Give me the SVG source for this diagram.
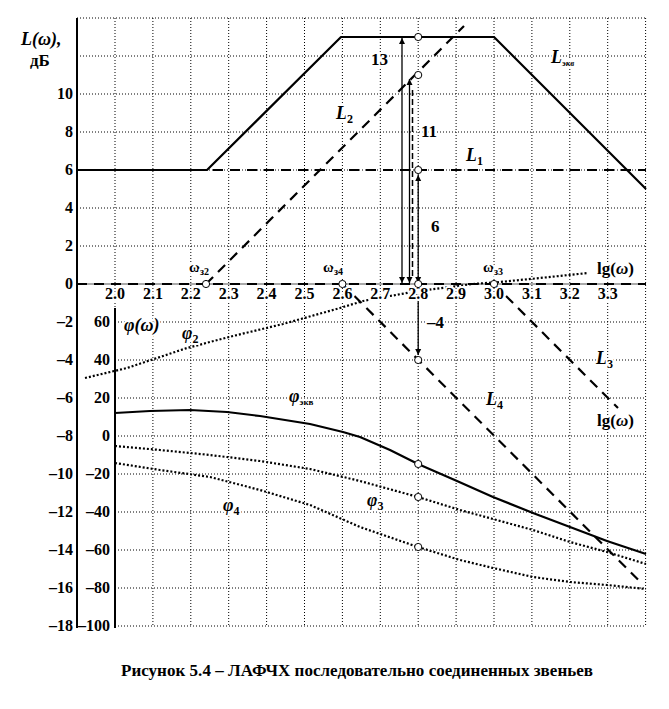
<svg xmlns="http://www.w3.org/2000/svg" width="669" height="709" viewBox="0 0 669 709">
<defs>
<style>
.grid{fill:none;stroke:#000;stroke-width:1;stroke-dasharray:1 2}
.axis{fill:none;stroke:#000;stroke-width:2}
.solid{fill:none;stroke:#000;stroke-width:2.2;stroke-linejoin:round}
.dash{fill:none;stroke:#000;stroke-width:2.2;stroke-dasharray:10 7}
.dot{fill:none;stroke:#000;stroke-width:2.2;stroke-dasharray:2 2;stroke-linejoin:round}
.arr{fill:none;stroke:#000;stroke-width:1.3}
.pt{fill:#fff;stroke:#000;stroke-width:1}
text{font-family:"Liberation Serif","Times New Roman",serif;font-weight:bold;fill:#000}
.tk{font-size:16px}
.tl{text-anchor:end}
.tc{text-anchor:middle}
.halo{stroke:#fff;stroke-width:4;paint-order:stroke;stroke-linejoin:round}
.lab{font-size:18px;font-style:italic}
.num{font-size:17px}
</style>
<marker id="ah" viewBox="0 0 10 10" refX="10" refY="5" markerWidth="6" markerHeight="11" markerUnits="userSpaceOnUse" orient="auto-start-reverse">
<path d="M0,0 L10,5 L0,10 z" fill="#000"/>
</marker>
</defs>

<g id="grid">
<path class="grid" d="M152.9,18V626M190.8,18V626M228.7,18V626M266.6,18V626M304.5,18V626M342.4,18V626M380.3,18V626M418.2,18V626M456.1,18V626M494,18V626M531.9,18V626M569.8,18V626M607.7,18V626M645.6,18V626M115,18V310"/>
<path class="grid" d="M77,18H646M77,56H646M77,94H646M77,132H646M77,170H646M77,208H646M77,246H646M115,322H646M115,360H646M115,398H646M115,436H646M115,474H646M115,512H646M115,550H646M115,588H646M115,626H646"/>
</g>

<g id="axes">
<path class="axis" d="M77,18V628"/>
<path class="axis" d="M115,308V628" stroke-width="1.5"/>
<path fill="none" stroke="#555" stroke-width="1.2" d="M77,284H646"/>
</g>

<g id="connectors">
<path id="L0" class="dash" d="M77,284H646"/>
<path id="L1" class="dash" d="M77,170H646"/>
<path id="Lekv" class="solid" d="M77,170L207,170L341,37L494,37L646,189"/>
<path id="L2" class="dash" d="M206,284L464,26"/>
<path id="L3" class="dash" d="M494,284L618,408"/>
<path id="L4" class="dash" d="M342.4,284L640,581.6"/>
<path id="phi2" class="dot" d="M85,378L127,368L187,348L233,336L283,324L340,308L363,301L390,296L418,291L450,287L473,284L500,282L540,278L588,273"/>
<path id="phiekv" class="solid" d="M115,413L150,411L190,410L227,412L260,416L310,424L343,432L360,437L390,450L418,464L457,481L493,497L533,513L570,527L607,541L646,554"/>
<path id="phi3" class="dot" d="M115,446L160,450L210,455L260,461L310,469L360,481L418,497L460,510L493,519L533,530L570,542L607,552L646,564"/>
<path id="phi4" class="dot" d="M115,463L160,470L210,477L260,490L310,505L360,527L418,547L460,560L493,568L533,577L570,582L607,585L646,589"/>
<path class="arr" d="M402,283V38" marker-start="url(#ah)" marker-end="url(#ah)"/>
<path class="arr" d="M409.5,283V79" marker-start="url(#ah)" marker-end="url(#ah)" stroke-width="1.6"/>
<path fill="none" stroke="#000" stroke-width="1.5" stroke-dasharray="6 3" d="M412.5,276V90"/>
<path class="arr" d="M418.2,283V175" marker-start="url(#ah)" marker-end="url(#ah)"/>
<path class="arr" d="M418.2,287V355" marker-end="url(#ah)"/>
</g>

<g id="points">
<circle class="pt" cx="206" cy="284" r="3.6"/>
<circle class="pt" cx="342.4" cy="284" r="3.6"/>
<circle class="pt" cx="494" cy="284" r="3.6"/>
<circle class="pt" cx="418.2" cy="284" r="3.6"/>
<circle class="pt" cx="418.2" cy="291.5" r="3.6"/>
<circle class="pt" cx="418.2" cy="37" r="3.6"/>
<circle class="pt" cx="418.2" cy="75" r="3.6"/>
<circle class="pt" cx="418.2" cy="170" r="3.6"/>
<circle class="pt" cx="418.2" cy="360" r="3.6"/>
<circle class="pt" cx="418.2" cy="464" r="3.6"/>
<circle class="pt" cx="418.2" cy="497" r="3.6"/>
<circle class="pt" cx="418.2" cy="547" r="3.6"/>
</g>

<g id="ticks-L" class="tk tl">
<text x="73" y="99">10</text>
<text x="73" y="137">8</text>
<text x="73" y="175">6</text>
<text x="73" y="213">4</text>
<text x="73" y="251">2</text>
<text x="73" y="289">0</text>
<text x="73" y="327">–2</text>
<text x="73" y="365">–4</text>
<text x="73" y="403">–6</text>
<text x="73" y="441">–8</text>
<text x="73" y="479">–10</text>
<text x="73" y="517">–12</text>
<text x="73" y="555">–14</text>
<text x="73" y="593">–16</text>
<text x="73" y="631">–18</text>
</g>

<g id="ticks-phi" class="tk tl">
<text x="110" y="327">60</text>
<text x="110" y="365">40</text>
<text x="110" y="403">20</text>
<text x="110" y="441">0</text>
<text x="110" y="479">–20</text>
<text x="110" y="517">–40</text>
<text x="110" y="555">–60</text>
<text x="110" y="593">–80</text>
<text x="110" y="631">–100</text>
</g>

<g id="ticks-x" class="tk tc halo">
<text x="115" y="299">2.0</text>
<text x="152.9" y="299">2.1</text>
<text x="190.8" y="299">2.2</text>
<text x="228.7" y="299">2.3</text>
<text x="266.6" y="299">2.4</text>
<text x="304.5" y="299">2.5</text>
<text x="342.4" y="299">2.6</text>
<text x="380.3" y="299">2.7</text>
<text x="418.2" y="299">2.8</text>
<text x="456.1" y="299">2.9</text>
<text x="494" y="299">3.0</text>
<text x="531.9" y="299">3.1</text>
<text x="569.8" y="299">3.2</text>
<text x="607.7" y="299">3.3</text>
</g>

<g id="labels">
<text x="21" y="45" font-size="18" font-style="italic">L(ω),</text>
<text x="30" y="66" font-size="17">дБ</text>
<text class="num halo" x="371" y="65">13</text>
<text class="num halo" x="421" y="137">11</text>
<text class="num halo" x="431" y="232">6</text>
<text class="num halo" x="427" y="328">–4</text>
<text class="lab halo" x="336" y="119">L<tspan font-size="12" dy="4" font-style="normal">2</tspan></text>
<text class="lab halo" x="466" y="161">L<tspan font-size="12" dy="4" font-style="normal">1</tspan></text>
<text class="lab halo" x="551" y="63">L<tspan font-size="9" dy="3">экв</tspan></text>
<text class="lab halo" x="596" y="364">L<tspan font-size="12" dy="4" font-style="normal">3</tspan></text>
<text class="lab halo" x="486" y="405">L<tspan font-size="12" dy="4" font-style="normal">4</tspan></text>
<text class="halo" x="597" y="274" font-size="17">lg(<tspan font-style="italic">ω</tspan>)</text>
<text class="halo" x="597" y="426" font-size="17">lg(<tspan font-style="italic">ω</tspan>)</text>
<text class="halo" x="189" y="272" font-size="15">ω<tspan font-size="10" dy="3">з2</tspan></text>
<text class="halo" x="323" y="272" font-size="15">ω<tspan font-size="10" dy="3">з4</tspan></text>
<text class="halo" x="483" y="272" font-size="15">ω<tspan font-size="10" dy="3">з3</tspan></text>
<text class="lab halo" x="124" y="331" font-size="18">φ(ω)</text>
<text class="lab halo" x="182" y="339">φ<tspan font-size="12" dy="4" font-style="normal">2</tspan></text>
<text class="lab halo" x="289" y="402">φ<tspan font-size="9" dy="3" font-style="normal">экв</tspan></text>
<text class="lab halo" x="367" y="506">φ<tspan font-size="12" dy="4" font-style="normal">3</tspan></text>
<text class="lab halo" x="223" y="511">φ<tspan font-size="12" dy="4" font-style="normal">4</tspan></text>
</g>

<text id="caption" x="357" y="676" font-size="17" text-anchor="middle" textLength="472" lengthAdjust="spacing">Рисунок 5.4 – ЛАФЧХ последовательно соединенных звеньев</text>
</svg>
